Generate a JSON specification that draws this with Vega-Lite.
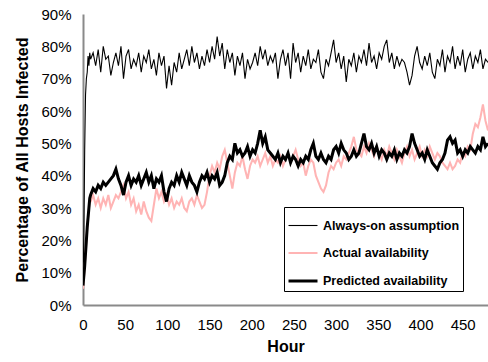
{
  "$schema": "https://vega.github.io/schema/vega-lite/v6.json",
  "width": 405,
  "height": 291,
  "autosize": {"type": "none"},
  "padding": {"left": 83, "top": 14, "right": 0, "bottom": 57},
  "background": "white",
  "config": {
    "font": "Liberation Sans",
    "view": {"stroke": null}
  },
  "data": {
    "values": [
      {"h":0,"always":5,"actual":5,"predicted":6},
      {"h":1,"always":22,"actual":8,"predicted":9},
      {"h":2,"always":48,"actual":12,"predicted":12},
      {"h":3,"always":65,"actual":16,"predicted":16},
      {"h":4,"always":70,"actual":20,"predicted":20},
      {"h":5,"always":72,"actual":24,"predicted":24},
      {"h":6,"always":77,"actual":27,"predicted":27},
      {"h":7,"always":74,"actual":30,"predicted":30},
      {"h":8,"always":78,"actual":32,"predicted":33},
      {"h":9,"always":76,"actual":32,"predicted":34},
      {"h":12,"always":78,"actual":34,"predicted":36},
      {"h":15,"always":74,"actual":31,"predicted":35},
      {"h":18,"always":79,"actual":33,"predicted":37},
      {"h":21,"always":72,"actual":30,"predicted":36},
      {"h":24,"always":80,"actual":33,"predicted":38},
      {"h":27,"always":76,"actual":31,"predicted":37},
      {"h":30,"always":77,"actual":34,"predicted":38},
      {"h":33,"always":71,"actual":30,"predicted":39},
      {"h":36,"always":75,"actual":32,"predicted":40},
      {"h":39,"always":78,"actual":34,"predicted":42},
      {"h":42,"always":74,"actual":33,"predicted":39},
      {"h":45,"always":80,"actual":35,"predicted":37},
      {"h":48,"always":70,"actual":37,"predicted":34},
      {"h":51,"always":77,"actual":33,"predicted":38},
      {"h":54,"always":79,"actual":35,"predicted":40},
      {"h":57,"always":73,"actual":31,"predicted":37},
      {"h":60,"always":76,"actual":33,"predicted":39},
      {"h":63,"always":74,"actual":29,"predicted":38},
      {"h":66,"always":78,"actual":31,"predicted":40},
      {"h":69,"always":72,"actual":28,"predicted":37},
      {"h":72,"always":77,"actual":32,"predicted":39},
      {"h":75,"always":75,"actual":29,"predicted":41},
      {"h":78,"always":79,"actual":27,"predicted":38},
      {"h":81,"always":73,"actual":26,"predicted":40},
      {"h":84,"always":76,"actual":31,"predicted":36},
      {"h":87,"always":71,"actual":36,"predicted":39},
      {"h":90,"always":78,"actual":33,"predicted":38},
      {"h":93,"always":74,"actual":35,"predicted":40},
      {"h":96,"always":77,"actual":32,"predicted":35},
      {"h":99,"always":67,"actual":34,"predicted":32},
      {"h":102,"always":74,"actual":31,"predicted":36},
      {"h":105,"always":68,"actual":33,"predicted":38},
      {"h":108,"always":75,"actual":30,"predicted":37},
      {"h":111,"always":72,"actual":32,"predicted":40},
      {"h":114,"always":78,"actual":31,"predicted":38},
      {"h":117,"always":73,"actual":33,"predicted":41},
      {"h":120,"always":76,"actual":30,"predicted":39},
      {"h":123,"always":79,"actual":29,"predicted":37},
      {"h":126,"always":74,"actual":32,"predicted":40},
      {"h":129,"always":80,"actual":33,"predicted":38},
      {"h":132,"always":75,"actual":31,"predicted":37},
      {"h":135,"always":78,"actual":34,"predicted":35},
      {"h":138,"always":73,"actual":32,"predicted":38},
      {"h":141,"always":77,"actual":30,"predicted":40},
      {"h":144,"always":74,"actual":31,"predicted":39},
      {"h":147,"always":79,"actual":35,"predicted":41},
      {"h":150,"always":75,"actual":40,"predicted":38},
      {"h":153,"always":80,"actual":43,"predicted":40},
      {"h":156,"always":76,"actual":41,"predicted":39},
      {"h":159,"always":83,"actual":44,"predicted":41},
      {"h":162,"always":77,"actual":42,"predicted":37},
      {"h":165,"always":81,"actual":46,"predicted":38},
      {"h":168,"always":73,"actual":48,"predicted":40},
      {"h":171,"always":79,"actual":44,"predicted":44},
      {"h":174,"always":75,"actual":40,"predicted":46},
      {"h":177,"always":78,"actual":36,"predicted":45},
      {"h":180,"always":71,"actual":41,"predicted":50},
      {"h":183,"always":77,"actual":44,"predicted":47},
      {"h":186,"always":74,"actual":43,"predicted":48},
      {"h":189,"always":78,"actual":46,"predicted":46},
      {"h":192,"always":70,"actual":42,"predicted":47},
      {"h":195,"always":76,"actual":39,"predicted":49},
      {"h":198,"always":73,"actual":43,"predicted":46},
      {"h":201,"always":75,"actual":45,"predicted":48},
      {"h":204,"always":78,"actual":44,"predicted":47},
      {"h":207,"always":74,"actual":46,"predicted":50},
      {"h":210,"always":80,"actual":43,"predicted":54},
      {"h":213,"always":76,"actual":45,"predicted":50},
      {"h":216,"always":79,"actual":47,"predicted":52},
      {"h":219,"always":74,"actual":44,"predicted":48},
      {"h":222,"always":77,"actual":46,"predicted":47},
      {"h":225,"always":75,"actual":43,"predicted":46},
      {"h":228,"always":78,"actual":45,"predicted":45},
      {"h":231,"always":70,"actual":44,"predicted":47},
      {"h":234,"always":76,"actual":46,"predicted":44},
      {"h":237,"always":79,"actual":43,"predicted":46},
      {"h":240,"always":74,"actual":45,"predicted":45},
      {"h":243,"always":78,"actual":47,"predicted":47},
      {"h":246,"always":70,"actual":44,"predicted":44},
      {"h":249,"always":81,"actual":46,"predicted":46},
      {"h":252,"always":75,"actual":48,"predicted":45},
      {"h":255,"always":78,"actual":45,"predicted":43},
      {"h":258,"always":72,"actual":43,"predicted":45},
      {"h":261,"always":77,"actual":44,"predicted":44},
      {"h":264,"always":74,"actual":40,"predicted":46},
      {"h":267,"always":79,"actual":43,"predicted":45},
      {"h":270,"always":73,"actual":45,"predicted":48},
      {"h":273,"always":76,"actual":44,"predicted":50},
      {"h":276,"always":75,"actual":40,"predicted":46},
      {"h":279,"always":79,"actual":38,"predicted":45},
      {"h":282,"always":72,"actual":36,"predicted":47},
      {"h":285,"always":70,"actual":35,"predicted":45},
      {"h":288,"always":76,"actual":37,"predicted":44},
      {"h":291,"always":74,"actual":41,"predicted":46},
      {"h":294,"always":78,"actual":43,"predicted":45},
      {"h":297,"always":82,"actual":42,"predicted":48},
      {"h":300,"always":75,"actual":44,"predicted":49},
      {"h":303,"always":78,"actual":45,"predicted":47},
      {"h":306,"always":73,"actual":43,"predicted":50},
      {"h":309,"always":77,"actual":46,"predicted":48},
      {"h":312,"always":69,"actual":45,"predicted":47},
      {"h":315,"always":76,"actual":47,"predicted":45},
      {"h":318,"always":74,"actual":49,"predicted":46},
      {"h":321,"always":78,"actual":52,"predicted":48},
      {"h":324,"always":72,"actual":48,"predicted":46},
      {"h":327,"always":77,"actual":47,"predicted":47},
      {"h":330,"always":75,"actual":46,"predicted":50},
      {"h":333,"always":79,"actual":49,"predicted":53},
      {"h":336,"always":74,"actual":47,"predicted":49},
      {"h":339,"always":81,"actual":50,"predicted":48},
      {"h":342,"always":75,"actual":48,"predicted":50},
      {"h":345,"always":77,"actual":46,"predicted":47},
      {"h":348,"always":73,"actual":49,"predicted":49},
      {"h":351,"always":78,"actual":47,"predicted":46},
      {"h":354,"always":76,"actual":45,"predicted":48},
      {"h":357,"always":80,"actual":48,"predicted":47},
      {"h":360,"always":82,"actual":46,"predicted":45},
      {"h":363,"always":75,"actual":49,"predicted":47},
      {"h":366,"always":78,"actual":47,"predicted":46},
      {"h":369,"always":73,"actual":45,"predicted":48},
      {"h":372,"always":77,"actual":48,"predicted":45},
      {"h":375,"always":74,"actual":46,"predicted":47},
      {"h":378,"always":76,"actual":44,"predicted":46},
      {"h":381,"always":75,"actual":47,"predicted":48},
      {"h":384,"always":72,"actual":49,"predicted":47},
      {"h":387,"always":68,"actual":46,"predicted":49},
      {"h":390,"always":71,"actual":48,"predicted":53},
      {"h":393,"always":77,"actual":45,"predicted":50},
      {"h":396,"always":80,"actual":47,"predicted":48},
      {"h":399,"always":75,"actual":49,"predicted":46},
      {"h":402,"always":73,"actual":46,"predicted":47},
      {"h":405,"always":77,"actual":48,"predicted":45},
      {"h":408,"always":74,"actual":46,"predicted":48},
      {"h":411,"always":78,"actual":49,"predicted":46},
      {"h":414,"always":72,"actual":47,"predicted":44},
      {"h":417,"always":70,"actual":45,"predicted":43},
      {"h":420,"always":76,"actual":47,"predicted":42},
      {"h":423,"always":74,"actual":46,"predicted":44},
      {"h":426,"always":79,"actual":44,"predicted":45},
      {"h":429,"always":72,"actual":43,"predicted":47},
      {"h":432,"always":77,"actual":42,"predicted":51},
      {"h":435,"always":75,"actual":44,"predicted":52},
      {"h":438,"always":80,"actual":42,"predicted":50},
      {"h":441,"always":73,"actual":43,"predicted":51},
      {"h":444,"always":77,"actual":45,"predicted":47},
      {"h":447,"always":74,"actual":44,"predicted":48},
      {"h":450,"always":79,"actual":47,"predicted":46},
      {"h":453,"always":72,"actual":46,"predicted":48},
      {"h":456,"always":76,"actual":49,"predicted":47},
      {"h":459,"always":78,"actual":48,"predicted":49},
      {"h":462,"always":73,"actual":53,"predicted":48},
      {"h":465,"always":77,"actual":56,"predicted":47},
      {"h":468,"always":75,"actual":55,"predicted":49},
      {"h":471,"always":79,"actual":58,"predicted":48},
      {"h":474,"always":73,"actual":62,"predicted":52},
      {"h":477,"always":76,"actual":57,"predicted":49},
      {"h":480,"always":75,"actual":54,"predicted":50}
    ]
  },
  "transform": [
    {"fold": ["always", "actual", "predicted"], "as": ["series", "value"]}
  ],
  "mark": {"type": "line", "interpolate": "linear", "clip": true},
  "encoding": {
    "x": {
      "field": "h", "type": "quantitative",
      "scale": {"domain": [0, 480], "nice": false, "zero": false},
      "axis": {
        "title": "Hour", "values": [0,50,100,150,200,250,300,350,400,450],
        "grid": false, "ticks": false, "domainColor": "#8a8a8a", "domainWidth": 2,
        "labelFontSize": 15, "labelColor": "black", "labelPadding": 12, "labelFlush": false,
        "titleFontSize": 16, "titleFontWeight": "bold", "titleColor": "black", "titlePadding": 6
      }
    },
    "y": {
      "field": "value", "type": "quantitative",
      "scale": {"domain": [0, 90], "nice": false},
      "axis": {
        "title": "Percentage of All Hosts Infected", "values": [0,10,20,30,40,50,60,70,80,90],
        "labelExpr": "datum.value + '%'",
        "grid": false, "ticks": false, "domainColor": "#8a8a8a", "domainWidth": 2,
        "labelFontSize": 15, "labelColor": "black", "labelPadding": 12,
        "titleFontSize": 16, "titleFontWeight": "bold", "titleColor": "black", "titlePadding": 10
      }
    },
    "color": {
      "field": "series", "type": "nominal",
      "scale": {"domain": ["always", "actual", "predicted"], "range": ["black", "#ffb4b4", "black"]},
      "legend": {
        "title": null, "orient": "none", "legendX": 201, "legendY": 193,
        "labelExpr": "datum.label == 'always' ? 'Always-on assumption' : datum.label == 'actual' ? 'Actual availability' : 'Predicted availability'",
        "symbolType": "stroke", "symbolSize": 841, "labelOffset": 4,
        "labelFontSize": 12.5, "labelFontWeight": "bold", "labelColor": "black",
        "strokeColor": "black", "fillColor": "white", "padding": 3, "rowPadding": 5,
        "labelLimit": 300
      }
    },
    "strokeWidth": {
      "field": "series", "type": "nominal",
      "scale": {"domain": ["always", "actual", "predicted"], "range": [1.1, 3, 2.5]},
      "legend": null
    }
  }
}
